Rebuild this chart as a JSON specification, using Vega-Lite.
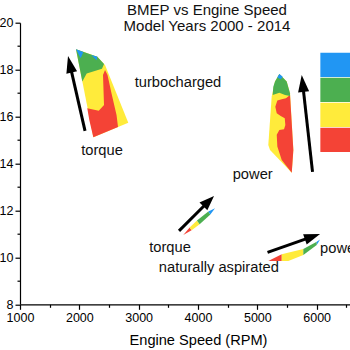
{
  "$schema": "https://vega.github.io/schema/vega-lite/v6.json",
  "width": 356,
  "height": 281.6,
  "autosize": {"type": "none"},
  "padding": {"left": 20, "top": 22.7, "right": 0, "bottom": 45.7},
  "background": "white",
  "config": {"view": {"stroke": null}, "font": "Liberation Sans"},
  "title": {
    "text": ["BMEP vs Engine Speed", "Model Years 2000 - 2014"],
    "fontSize": 15,
    "fontWeight": "normal",
    "font": "Liberation Sans",
    "color": "#111111",
    "lineHeight": 16.5,
    "offset": -17.5,
    "dx": 9,
    "anchor": "middle"
  },
  "datasets": {
    "polys": [
      {"poly": "t1o", "z": 0, "band": "2", "i": 0, "x": 1944, "y": 18.87},
      {"poly": "t1o", "z": 0, "band": "2", "i": 1, "x": 2303, "y": 18.55},
      {"poly": "t1o", "z": 0, "band": "2", "i": 2, "x": 2433, "y": 18.20},
      {"poly": "t1o", "z": 0, "band": "2", "i": 3, "x": 2825, "y": 15.74},
      {"poly": "t1o", "z": 0, "band": "2", "i": 4, "x": 2236, "y": 15.12},

      {"poly": "t2o", "z": 0, "band": "2", "i": 0, "x": 5371, "y": 17.81},
      {"poly": "t2o", "z": 0, "band": "2", "i": 1, "x": 5495, "y": 17.49},
      {"poly": "t2o", "z": 0, "band": "2", "i": 2, "x": 5551, "y": 16.99},
      {"poly": "t2o", "z": 0, "band": "2", "i": 3, "x": 5607, "y": 14.58},
      {"poly": "t2o", "z": 0, "band": "2", "i": 4, "x": 5580, "y": 13.61},
      {"poly": "t2o", "z": 0, "band": "2", "i": 5, "x": 5214, "y": 14.58},
      {"poly": "t2o", "z": 0, "band": "2", "i": 6, "x": 5185, "y": 14.79},
      {"poly": "t2o", "z": 0, "band": "2", "i": 7, "x": 5242, "y": 16.85},
      {"poly": "t2o", "z": 0, "band": "2", "i": 8, "x": 5298, "y": 17.49},

      {"poly": "n1r", "z": 0, "band": "1", "i": 0, "x": 3752, "y": 10.95},
      {"poly": "n1r", "z": 0, "band": "1", "i": 1, "x": 3859, "y": 11.27},
      {"poly": "n1r", "z": 0, "band": "1", "i": 2, "x": 3892, "y": 11.16},
      {"poly": "n1y", "z": 0, "band": "2", "i": 0, "x": 3859, "y": 11.27},
      {"poly": "n1y", "z": 0, "band": "2", "i": 1, "x": 3982, "y": 11.57},
      {"poly": "n1y", "z": 0, "band": "2", "i": 2, "x": 4028, "y": 11.41},
      {"poly": "n1y", "z": 0, "band": "2", "i": 3, "x": 3892, "y": 11.16},
      {"poly": "n1g", "z": 0, "band": "3", "i": 0, "x": 3982, "y": 11.57},
      {"poly": "n1g", "z": 0, "band": "3", "i": 1, "x": 4174, "y": 11.95},
      {"poly": "n1g", "z": 0, "band": "3", "i": 2, "x": 4208, "y": 11.83},
      {"poly": "n1g", "z": 0, "band": "3", "i": 3, "x": 4028, "y": 11.41},
      {"poly": "n1b", "z": 0, "band": "4", "i": 0, "x": 4174, "y": 11.95},
      {"poly": "n1b", "z": 0, "band": "4", "i": 1, "x": 4287, "y": 12.09},
      {"poly": "n1b", "z": 0, "band": "4", "i": 2, "x": 4208, "y": 11.83},

      {"poly": "n2r", "z": 0, "band": "1", "i": 0, "x": 5185, "y": 9.85},
      {"poly": "n2r", "z": 0, "band": "1", "i": 1, "x": 5411, "y": 10.13},
      {"poly": "n2r", "z": 0, "band": "1", "i": 2, "x": 5411, "y": 9.85},
      {"poly": "n2y", "z": 0, "band": "2", "i": 0, "x": 5411, "y": 10.13},
      {"poly": "n2y", "z": 0, "band": "2", "i": 1, "x": 5775, "y": 10.36},
      {"poly": "n2y", "z": 0, "band": "2", "i": 2, "x": 5775, "y": 10.10},
      {"poly": "n2y", "z": 0, "band": "2", "i": 3, "x": 5522, "y": 9.85},
      {"poly": "n2y", "z": 0, "band": "2", "i": 4, "x": 5411, "y": 9.85},
      {"poly": "n2g", "z": 0, "band": "3", "i": 0, "x": 5775, "y": 10.36},
      {"poly": "n2g", "z": 0, "band": "3", "i": 1, "x": 6001, "y": 10.67},
      {"poly": "n2g", "z": 0, "band": "3", "i": 2, "x": 6001, "y": 10.53},
      {"poly": "n2g", "z": 0, "band": "3", "i": 3, "x": 5775, "y": 10.10},
      {"poly": "n2b", "z": 0, "band": "4", "i": 0, "x": 6001, "y": 10.67},
      {"poly": "n2b", "z": 0, "band": "4", "i": 1, "x": 6057, "y": 10.76},
      {"poly": "n2b", "z": 0, "band": "4", "i": 2, "x": 6001, "y": 10.53},

      {"poly": "t1r", "z": 1, "band": "1", "i": 0, "x": 2134, "y": 16.35},
      {"poly": "t1r", "z": 1, "band": "1", "i": 1, "x": 2327, "y": 16.25},
      {"poly": "t1r", "z": 1, "band": "1", "i": 2, "x": 2416, "y": 16.49},
      {"poly": "t1r", "z": 1, "band": "1", "i": 3, "x": 2399, "y": 17.77},
      {"poly": "t1r", "z": 1, "band": "1", "i": 4, "x": 2433, "y": 17.98},
      {"poly": "t1r", "z": 1, "band": "1", "i": 5, "x": 2475, "y": 17.77},
      {"poly": "t1r", "z": 1, "band": "1", "i": 6, "x": 2542, "y": 16.99},
      {"poly": "t1r", "z": 1, "band": "1", "i": 7, "x": 2627, "y": 16.07},
      {"poly": "t1r", "z": 1, "band": "1", "i": 8, "x": 2652, "y": 15.56},
      {"poly": "t1r", "z": 1, "band": "1", "i": 9, "x": 2236, "y": 15.12},
      {"poly": "t1r", "z": 1, "band": "1", "i": 10, "x": 2168, "y": 15.85},

      {"poly": "t2r", "z": 1, "band": "1", "i": 0, "x": 5551, "y": 16.92},
      {"poly": "t2r", "z": 1, "band": "1", "i": 1, "x": 5607, "y": 14.58},
      {"poly": "t2r", "z": 1, "band": "1", "i": 2, "x": 5580, "y": 13.61},
      {"poly": "t2r", "z": 1, "band": "1", "i": 3, "x": 5411, "y": 14.15},
      {"poly": "t2r", "z": 1, "band": "1", "i": 4, "x": 5337, "y": 14.72},
      {"poly": "t2r", "z": 1, "band": "1", "i": 5, "x": 5327, "y": 15.22},
      {"poly": "t2r", "z": 1, "band": "1", "i": 6, "x": 5371, "y": 15.43},
      {"poly": "t2r", "z": 1, "band": "1", "i": 7, "x": 5450, "y": 15.46},
      {"poly": "t2r", "z": 1, "band": "1", "i": 8, "x": 5472, "y": 15.64},
      {"poly": "t2r", "z": 1, "band": "1", "i": 9, "x": 5462, "y": 15.93},
      {"poly": "t2r", "z": 1, "band": "1", "i": 10, "x": 5394, "y": 16.02},
      {"poly": "t2r", "z": 1, "band": "1", "i": 11, "x": 5327, "y": 16.14},
      {"poly": "t2r", "z": 1, "band": "1", "i": 12, "x": 5303, "y": 16.42},
      {"poly": "t2r", "z": 1, "band": "1", "i": 13, "x": 5337, "y": 16.68},
      {"poly": "t2r", "z": 1, "band": "1", "i": 14, "x": 5411, "y": 16.74},
      {"poly": "t2r", "z": 1, "band": "1", "i": 15, "x": 5483, "y": 16.78},

      {"poly": "t1g", "z": 2, "band": "3", "i": 0, "x": 1944, "y": 18.87},
      {"poly": "t1g", "z": 2, "band": "3", "i": 1, "x": 2303, "y": 18.55},
      {"poly": "t1g", "z": 2, "band": "3", "i": 2, "x": 2416, "y": 18.24},
      {"poly": "t1g", "z": 2, "band": "3", "i": 3, "x": 2382, "y": 18.04},
      {"poly": "t1g", "z": 2, "band": "3", "i": 4, "x": 2124, "y": 17.84},
      {"poly": "t1g", "z": 2, "band": "3", "i": 5, "x": 2050, "y": 17.49},

      {"poly": "t2g", "z": 2, "band": "3", "i": 0, "x": 5371, "y": 17.81},
      {"poly": "t2g", "z": 2, "band": "3", "i": 1, "x": 5495, "y": 17.49},
      {"poly": "t2g", "z": 2, "band": "3", "i": 2, "x": 5551, "y": 16.99},
      {"poly": "t2g", "z": 2, "band": "3", "i": 3, "x": 5551, "y": 16.88},
      {"poly": "t2g", "z": 2, "band": "3", "i": 4, "x": 5467, "y": 16.92},
      {"poly": "t2g", "z": 2, "band": "3", "i": 5, "x": 5371, "y": 17.02},
      {"poly": "t2g", "z": 2, "band": "3", "i": 6, "x": 5259, "y": 16.92},
      {"poly": "t2g", "z": 2, "band": "3", "i": 7, "x": 5269, "y": 17.27},
      {"poly": "t2g", "z": 2, "band": "3", "i": 8, "x": 5298, "y": 17.49},

      {"poly": "t1b", "z": 3, "band": "4", "i": 0, "x": 1944, "y": 18.87},
      {"poly": "t1b", "z": 3, "band": "4", "i": 1, "x": 2067, "y": 18.75},
      {"poly": "t1b", "z": 3, "band": "4", "i": 2, "x": 2023, "y": 18.48},
      {"poly": "t1b2", "z": 3, "band": "4", "i": 0, "x": 2200, "y": 18.62},
      {"poly": "t1b2", "z": 3, "band": "4", "i": 1, "x": 2303, "y": 18.55},
      {"poly": "t1b2", "z": 3, "band": "4", "i": 2, "x": 2290, "y": 18.40},
      {"poly": "t2b", "z": 3, "band": "4", "i": 0, "x": 5371, "y": 17.81},
      {"poly": "t2b", "z": 3, "band": "4", "i": 1, "x": 5428, "y": 17.70},
      {"poly": "t2b", "z": 3, "band": "4", "i": 2, "x": 5394, "y": 17.59},
      {"poly": "t2b", "z": 3, "band": "4", "i": 3, "x": 5337, "y": 17.67}
    ],
    "shafts": [
      {"arrow": "a1", "x": 2096, "y": 15.39, "x2": 1847, "y2": 18.15},
      {"arrow": "a2", "x": 5930, "y": 13.64, "x2": 5767, "y2": 17.34},
      {"arrow": "a3", "x": 3680, "y": 11.13, "x2": 4163, "y2": 12.35},
      {"arrow": "a4", "x": 5172, "y": 10.21, "x2": 5904, "y2": 10.86}
    ],
    "heads": [
      {"arrow": "a1", "i": 0, "x": 1809, "y": 18.58},
      {"arrow": "a1", "i": 1, "x": 1962, "y": 17.93},
      {"arrow": "a1", "i": 2, "x": 1782, "y": 17.82},
      {"arrow": "a2", "i": 0, "x": 5748, "y": 17.77},
      {"arrow": "a2", "i": 1, "x": 5873, "y": 17.08},
      {"arrow": "a2", "i": 2, "x": 5687, "y": 17.03},
      {"arrow": "a3", "i": 0, "x": 4270, "y": 12.62},
      {"arrow": "a3", "i": 1, "x": 4157, "y": 12.01},
      {"arrow": "a3", "i": 2, "x": 4025, "y": 12.34},
      {"arrow": "a4", "i": 0, "x": 6057, "y": 11.00},
      {"arrow": "a4", "i": 1, "x": 5832, "y": 10.55},
      {"arrow": "a4", "i": 2, "x": 5772, "y": 10.99}
    ],
    "labels": [
      {"label": "turbocharged", "x": 3663, "y": 17.45},
      {"label": "torque", "x": 2382, "y": 14.53},
      {"label": "power", "x": 4922, "y": 13.50},
      {"label": "torque", "x": 3528, "y": 10.40},
      {"label": "naturally aspirated", "x": 4351, "y": 9.54},
      {"label": "power", "x": 6394, "y": 10.37}
    ]
  },
  "encoding": {
    "x": {
      "field": "x",
      "type": "quantitative",
      "scale": {"domain": [1000, 7000], "nice": false, "zero": false},
      "axis": {
        "title": "Engine Speed (RPM)",
        "values": [1000, 1500, 2000, 2500, 3000, 3500, 4000, 4500, 5000, 5500, 6000, 6500, 7000],
        "labelExpr": "datum.value % 1000 === 0 ? format(datum.value, 'd') : ''",
        "tickSize": {"condition": {"test": "datum.value % 1000 === 0", "value": 5}, "value": 3},
        "grid": false,
        "domainColor": "black",
        "tickColor": "black",
        "domainWidth": 1.2,
        "tickWidth": 1.2,
        "labelColor": "black",
        "labelFont": "Liberation Sans",
        "labelFontSize": 12.5,
        "labelPadding": 2,
        "labelFlush": false,
        "labelOverlap": false,
        "titleFont": "Liberation Sans",
        "titleFontSize": 14.6,
        "titleFontWeight": "normal",
        "titleColor": "black",
        "titlePadding": 9
      }
    },
    "y": {
      "field": "y",
      "type": "quantitative",
      "scale": {"domain": [8, 20], "nice": false, "zero": false},
      "axis": {
        "title": null,
        "values": [8, 9, 10, 11, 12, 13, 14, 15, 16, 17, 18, 19, 20],
        "labelExpr": "datum.value % 2 === 0 ? datum.label : ''",
        "tickSize": {"condition": {"test": "datum.value % 2 === 0", "value": 5}, "value": 3},
        "grid": false,
        "domainColor": "black",
        "tickColor": "black",
        "domainWidth": 1.2,
        "tickWidth": 1.2,
        "labelColor": "black",
        "labelFont": "Liberation Sans",
        "labelFontSize": 12.5,
        "labelPadding": 2,
        "labelFlush": false,
        "labelOverlap": false
      }
    }
  },
  "layer": [
    {
      "data": {"name": "polys"},
      "transform": [{"filter": "datum.z === 0"}],
      "mark": {"type": "line", "interpolate": "linear-closed", "strokeWidth": 0},
      "encoding": {
        "fill": {
          "field": "band",
          "type": "nominal",
          "scale": {"domain": ["4", "3", "2", "1"], "range": ["#2196F3", "#4CAF50", "#FFEB3B", "#F44336"]},
          "legend": {
            "orient": "none",
            "legendX": 300,
            "legendY": 29.6,
            "title": null,
            "symbolType": "M-1,-1H1.8V1H-1Z",
            "symbolSize": 590,
            "symbolStrokeWidth": 0,
            "symbolOpacity": 1,
            "rowPadding": 0,
            "padding": 0,
            "labelOffset": 40,
            "labelFontSize": 12
          }
        },
        "detail": {"field": "poly"},
        "order": {"field": "i", "type": "quantitative"}
      }
    },
    {
      "data": {"name": "polys"},
      "transform": [{"filter": "datum.z === 1"}],
      "mark": {"type": "line", "interpolate": "linear-closed", "strokeWidth": 0},
      "encoding": {
        "fill": {"field": "band", "type": "nominal", "legend": null},
        "detail": {"field": "poly"},
        "order": {"field": "i", "type": "quantitative"}
      }
    },
    {
      "data": {"name": "polys"},
      "transform": [{"filter": "datum.z === 2"}],
      "mark": {"type": "line", "interpolate": "linear-closed", "strokeWidth": 0},
      "encoding": {
        "fill": {"field": "band", "type": "nominal", "legend": null},
        "detail": {"field": "poly"},
        "order": {"field": "i", "type": "quantitative"}
      }
    },
    {
      "data": {"name": "polys"},
      "transform": [{"filter": "datum.z === 3"}],
      "mark": {"type": "line", "interpolate": "linear-closed", "strokeWidth": 0},
      "encoding": {
        "fill": {"field": "band", "type": "nominal", "legend": null},
        "detail": {"field": "poly"},
        "order": {"field": "i", "type": "quantitative"}
      }
    },
    {
      "data": {"name": "shafts"},
      "mark": {"type": "rule", "color": "black", "strokeWidth": 3, "strokeCap": "butt"},
      "encoding": {
        "x2": {"field": "x2"},
        "y2": {"field": "y2"}
      }
    },
    {
      "data": {"name": "heads"},
      "mark": {"type": "line", "interpolate": "linear-closed", "fill": "black", "strokeWidth": 0},
      "encoding": {
        "detail": {"field": "arrow"},
        "order": {"field": "i", "type": "quantitative"}
      }
    },
    {
      "data": {"name": "labels"},
      "mark": {"type": "text", "font": "Liberation Sans", "fontSize": 14.7, "color": "#111111", "align": "center", "baseline": "middle"},
      "encoding": {
        "text": {"field": "label"}
      }
    }
  ]
}
